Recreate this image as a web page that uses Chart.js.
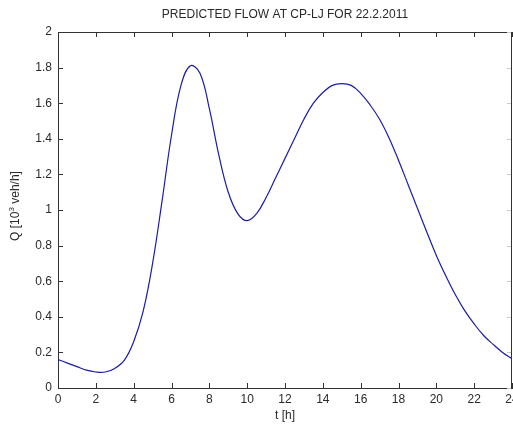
<!DOCTYPE html>
<html>
<head>
<meta charset="utf-8">
<title>Predicted flow at CP-LJ</title>
<script src="https://cdn.jsdelivr.net/npm/chart.js@4/dist/chart.umd.min.js"></script>
<style>
    html, body { margin: 0; padding: 0; background: #fff; }
    canvas { display: block; }
</style>
</head>
<body>
<canvas id="flowChart" width="513" height="428"></canvas>
<script>
// Hours of the day and predicted flow (10^3 veh/h)
const hours = [0, 0.5, 1, 1.5, 2, 2.5, 3, 3.5, 4, 4.5, 5, 5.5, 6, 6.5, 7, 7.5, 8, 8.5, 9, 9.5,
    10, 10.5, 11, 11.5, 12, 12.5, 13, 13.5, 14, 14.5, 15, 15.5, 16, 16.5, 17, 17.5, 18, 18.5,
    19, 19.5, 20, 20.5, 21, 21.5, 22, 22.5, 23, 23.5, 24];
const flow = [0.16, 0.14, 0.12, 0.10, 0.09, 0.09, 0.11, 0.155, 0.26, 0.43, 0.70, 1.05, 1.42, 1.70, 1.81, 1.77,
    1.57, 1.31, 1.10, 0.98, 0.94, 0.98, 1.07, 1.18, 1.29, 1.40, 1.51, 1.60, 1.66, 1.70, 1.71, 1.70,
    1.655, 1.59, 1.51, 1.405, 1.28, 1.145, 1.01, 0.875, 0.745, 0.63, 0.525, 0.435, 0.36, 0.295, 0.245, 0.20, 0.165];

const xTicks = [0, 2, 4, 6, 8, 10, 12, 14, 16, 18, 20, 22, 24];
const yTicks = [0, 0.2, 0.4, 0.6, 0.8, 1, 1.2, 1.4, 1.6, 1.8, 2];
const yTickLabels = ['0', '0.2', '0.4', '0.6', '0.8', '1', '1.2', '1.4', '1.6', '1.8', '2'];

const chartTitle = 'PREDICTED FLOW AT CP-LJ FOR 22.2.2011';
const xTitle = 't [h]';
const yTitleParts = ['Q [10', '3', ' veh/h]'];

const fontFamily = '"Liberation Sans", Arial, Helvetica, sans-serif';
const textColor = '#2a2a2a';
const axisColor = '#333';

// MATLAB style box: inward ticks on all four sides, top and right border
const boxPlugin = {
    id: 'matlabBox',
    afterDraw(chart) {
        const ctx = chart.ctx;
        const area = chart.chartArea;
        const xs = chart.scales.x;
        const ys = chart.scales.y;
        const len = 5;
        ctx.save();
        ctx.lineWidth = 1;
        ctx.strokeStyle = axisColor;
        ctx.beginPath();
        ctx.moveTo(area.left, area.top + 0.5);
        ctx.lineTo(area.right, area.top + 0.5);
        ctx.moveTo(area.right - 0.5, area.top);
        ctx.lineTo(area.right - 0.5, area.bottom);
        xTicks.forEach(function(v) {
            const px = Math.round(xs.getPixelForValue(v)) + 0.5;
            ctx.moveTo(px, area.bottom);
            ctx.lineTo(px, area.bottom - len);
            ctx.moveTo(px, area.top);
            ctx.lineTo(px, area.top + len);
        });
        yTicks.forEach(function(v) {
            const py = Math.round(ys.getPixelForValue(v)) + 0.5;
            ctx.moveTo(area.left, py);
            ctx.lineTo(area.left + len, py);
        });
        ctx.stroke();

        // right-side ticks come out faint in the reference
        ctx.strokeStyle = '#c8c8c8';
        ctx.beginPath();
        yTicks.forEach(function(v) {
            const py = Math.round(ys.getPixelForValue(v)) + 0.5;
            ctx.moveTo(area.right - 1, py);
            ctx.lineTo(area.right - len, py);
        });
        ctx.stroke();

        // y axis title with superscript 3
        ctx.fillStyle = textColor;
        ctx.textBaseline = 'middle';
        ctx.textAlign = 'left';
        const big = '12px ' + fontFamily;
        const small = '8px ' + fontFamily;
        ctx.font = big;
        const w1 = ctx.measureText(yTitleParts[0]).width;
        const w3 = ctx.measureText(yTitleParts[2]).width;
        ctx.font = small;
        const w2 = ctx.measureText(yTitleParts[1]).width;
        const total = w1 + w2 + w3;
        ctx.translate(16, (area.top + area.bottom) / 2 - 4);
        ctx.rotate(-Math.PI / 2);
        let x = -total / 2;
        ctx.font = big;
        ctx.fillText(yTitleParts[0], x, 0);
        x += w1;
        ctx.font = small;
        ctx.fillText(yTitleParts[1], x, -4);
        x += w2;
        ctx.font = big;
        ctx.fillText(yTitleParts[2], x, 0);
        ctx.restore();
    }
};

document.addEventListener('DOMContentLoaded', function() {
    const points = hours.map(function(h, i) {
        return { x: h, y: flow[i] };
    });

    new Chart(document.getElementById('flowChart'), {
        type: 'line',
        data: {
            datasets: [{
                data: points,
                borderColor: '#1c1ca6',
                borderWidth: 1.2,
                pointRadius: 0,
                fill: false,
                tension: 0.4
            }]
        },
        options: {
            responsive: false,
            animation: false,
            layout: { padding: { left: 0, right: 1, top: 0, bottom: 0 } },
            plugins: {
                legend: { display: false },
                tooltip: { enabled: false },
                title: {
                    display: true,
                    text: chartTitle,
                    fullSize: false,
                    color: textColor,
                    font: { family: fontFamily, size: 12, weight: 'normal' },
                    padding: { top: 7.5, bottom: 10.1 }
                }
            },
            scales: {
                x: {
                    type: 'linear',
                    min: 0,
                    max: 24,
                    afterBuildTicks: function(s) {
                        s.ticks = xTicks.map(function(v) { return { value: v }; });
                    },
                    afterFit: function(s) {
                        s.height = 40;
                        s.paddingLeft = 0;
                        s.paddingRight = 0;
                    },
                    grid: { display: false, drawTicks: false },
                    border: { display: true, color: axisColor, width: 1 },
                    ticks: {
                        color: textColor,
                        padding: 4,
                        maxRotation: 0,
                        autoSkip: false,
                        font: { family: fontFamily, size: 12 }
                    },
                    title: {
                        display: true,
                        text: xTitle,
                        color: textColor,
                        font: { family: fontFamily, size: 12 },
                        padding: { top: 0, bottom: 5.3 }
                    }
                },
                y: {
                    min: 0,
                    max: 2,
                    afterBuildTicks: function(s) {
                        s.ticks = yTicks.map(function(v) { return { value: v }; });
                    },
                    afterFit: function(s) {
                        s.width = 58;
                        s.paddingTop = 0;
                        s.paddingBottom = 0;
                    },
                    grid: { display: false, drawTicks: false },
                    border: { display: true, color: axisColor, width: 1 },
                    ticks: {
                        color: textColor,
                        padding: 6,
                        autoSkip: false,
                        font: { family: fontFamily, size: 12 },
                        callback: function(value, index) {
                            return yTickLabels[index];
                        }
                    }
                }
            }
        },
        plugins: [boxPlugin]
    });
});
</script>
</body>
</html>
